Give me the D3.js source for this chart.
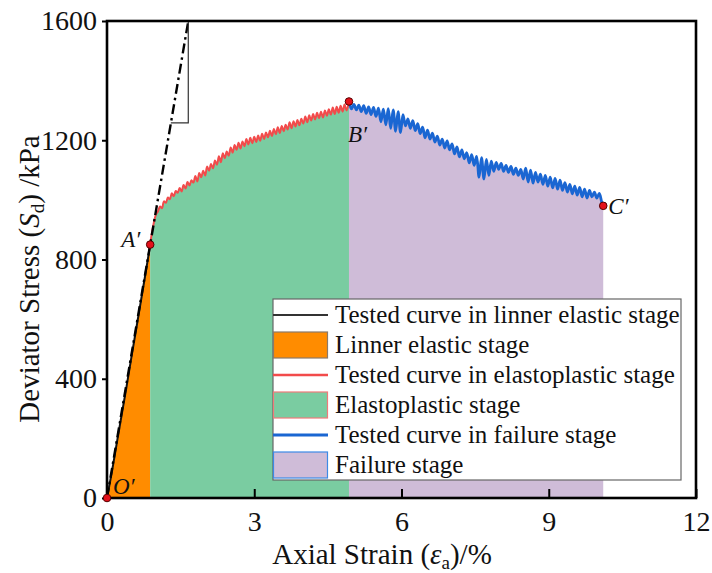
<!DOCTYPE html>
<html><head><meta charset="utf-8">
<script src="https://cdn.jsdelivr.net/npm/d3@7"></script>
<style>body{margin:0;background:#fff}svg{display:block}text{font-family:"Liberation Serif","Times New Roman",serif;fill:#111}</style>
</head><body><svg id="c" width="712" height="573"></svg>
<script>
// ---- data ----
const xTicks = [0, 3, 6, 9, 12];
const yTicks = [0, 400, 800, 1200, 1600];
// linear elastic stage (O' -> A')
const elasticCurve = [[0,0],[0.1,88],[0.2,185],[0.3,280],[0.4,375],[0.5,475],[0.6,572],[0.7,670],[0.8,768],[0.88,850]];
// elastoplastic stage (A' -> B')
const plasticCurve = [[0.88,850],[0.91,885],[0.94,912],[0.97,935],[1.0,952],[1.04,962],[1.08,978],[1.12,972],[1.16,995],[1.2,990],[1.24,1008],[1.28,1002],[1.32,1022],[1.36,1012],[1.4,1030],[1.44,1024],[1.48,1040],[1.52,1028],[1.56,1050],[1.6,1038],[1.64,1060],[1.68,1048],[1.72,1066],[1.76,1058],[1.8,1080],[1.84,1062],[1.88,1090],[1.92,1076],[1.96,1098],[2.0,1082],[2.04,1112],[2.08,1098],[2.12,1120],[2.16,1106],[2.2,1132],[2.24,1118],[2.28,1146],[2.32,1126],[2.36,1156],[2.4,1140],[2.44,1162],[2.48,1148],[2.52,1176],[2.56,1158],[2.6,1184],[2.64,1168],[2.68,1192],[2.72,1172],[2.76,1196],[2.8,1180],[2.84,1204],[2.88,1186],[2.92,1208],[2.96,1190],[3.0,1212],[3.04,1194],[3.08,1216],[3.12,1198],[3.16,1222],[3.2,1204],[3.24,1226],[3.28,1210],[3.32,1232],[3.36,1214],[3.4,1238],[3.44,1220],[3.48,1244],[3.52,1224],[3.56,1248],[3.6,1230],[3.64,1252],[3.68,1236],[3.72,1260],[3.76,1240],[3.8,1264],[3.84,1246],[3.88,1268],[3.92,1250],[3.96,1272],[4.0,1256],[4.04,1280],[4.08,1260],[4.12,1284],[4.16,1266],[4.2,1288],[4.24,1270],[4.28,1292],[4.32,1274],[4.36,1296],[4.4,1276],[4.44,1300],[4.48,1282],[4.52,1304],[4.56,1286],[4.6,1310],[4.64,1288],[4.68,1312],[4.72,1292],[4.76,1316],[4.8,1296],[4.84,1320],[4.88,1300],[4.93,1330]];
// failure stage (B' -> C')
const failureCurve = [[4.93,1330],[4.98,1305],[5.03,1320],[5.08,1302],[5.13,1318],[5.18,1296],[5.23,1316],[5.28,1290],[5.33,1312],[5.38,1286],[5.43,1310],[5.48,1280],[5.53,1308],[5.58,1262],[5.63,1304],[5.68,1252],[5.73,1306],[5.78,1240],[5.83,1302],[5.88,1230],[5.93,1296],[5.98,1226],[6.03,1286],[6.08,1248],[6.13,1272],[6.18,1240],[6.23,1266],[6.28,1232],[6.33,1256],[6.38,1222],[6.43,1244],[6.48,1208],[6.53,1234],[6.58,1204],[6.63,1224],[6.68,1194],[6.73,1214],[6.78,1184],[6.83,1204],[6.88,1174],[6.93,1198],[6.98,1168],[7.03,1188],[7.08,1154],[7.13,1178],[7.18,1144],[7.23,1168],[7.28,1138],[7.33,1158],[7.38,1124],[7.43,1152],[7.48,1116],[7.53,1146],[7.58,1076],[7.63,1142],[7.68,1070],[7.73,1136],[7.78,1082],[7.83,1130],[7.88,1096],[7.93,1126],[7.98,1102],[8.03,1122],[8.08,1096],[8.13,1116],[8.18,1092],[8.23,1112],[8.28,1086],[8.33,1106],[8.38,1082],[8.43,1102],[8.48,1070],[8.53,1106],[8.58,1060],[8.63,1100],[8.68,1056],[8.73,1092],[8.78,1060],[8.83,1086],[8.88,1052],[8.93,1082],[8.98,1046],[9.03,1076],[9.08,1040],[9.13,1072],[9.18,1036],[9.23,1066],[9.28,1032],[9.33,1058],[9.38,1026],[9.43,1052],[9.48,1020],[9.53,1046],[9.58,1016],[9.63,1042],[9.68,1010],[9.73,1036],[9.78,1006],[9.83,1032],[9.88,1010],[9.93,1026],[9.98,1006],[10.03,1022],[10.08,992],[10.11,980]];
// fitted linear-elastic line (through origin) and slope triangle
const fitLine = [[0,0],[1.656,1600]];
const slopeMark = [[1.30,1258],[1.656,1258],[1.656,1600]];
// key points
const keyPoints = [{name:"O",x:0,y:0},{name:"A",x:0.88,y:850},{name:"B",x:4.93,y:1330},{name:"C",x:10.11,y:980}];
const legendLabels = ["Tested curve in linner elastic stage","Linner elastic stage","Tested curve in elastoplastic stage","Elastoplastic stage","Tested curve in failure stage","Failure stage"];

// ---- drawing ----
const svg = d3.select("#c");
const L=107, R=696, T=21, B=498;
const x = d3.scaleLinear().domain([0,12]).range([L,R]);
const y = d3.scaleLinear().domain([0,1600]).range([B,T]);
const col = {orange:"#ff8c00", green:"#7acca1", purple:"#cfbcd8", red:"#f24b4b", blue:"#1a66d2", black:"#111"};

const area = d3.area().x(d=>x(d[0])).y0(y(0)).y1(d=>y(d[1]));
const areaS = d3.area().x(d=>x(d[0])).y0(y(0)).y1(d=>y(d[1])).curve(d3.curveCatmullRom);
const line = d3.line().x(d=>x(d[0])).y(d=>y(d[1]));
const lineS = d3.line().x(d=>x(d[0])).y(d=>y(d[1])).curve(d3.curveCatmullRom);

svg.append("path").datum(elasticCurve).attr("d",area).attr("fill",col.orange);
svg.append("path").datum(plasticCurve).attr("d",areaS).attr("fill",col.green);
svg.append("path").datum(failureCurve).attr("d",areaS).attr("fill",col.purple);

svg.append("path").datum(elasticCurve).attr("d",line).attr("fill","none").attr("stroke",col.black).attr("stroke-width",2);
svg.append("path").datum(plasticCurve).attr("d",lineS).attr("fill","none").attr("stroke",col.red).attr("stroke-width",2);
svg.append("path").datum(failureCurve).attr("d",lineS).attr("fill","none").attr("stroke",col.blue).attr("stroke-width",2.8);

svg.append("path").datum(fitLine).attr("d",line).attr("fill","none").attr("stroke","#000").attr("stroke-width",2.4).attr("stroke-dasharray","10,4,2.5,4");
svg.append("path").datum(slopeMark).attr("d",line).attr("fill","none").attr("stroke","#333").attr("stroke-width",1.2);

// axes
const fs = 28;
const yAxis = d3.axisLeft(y).tickValues(yTicks).tickSizeInner(5).tickSizeOuter(0).tickPadding(5).tickFormat(d3.format("d"));
const gy = svg.append("g").attr("transform",`translate(${L},0)`).call(yAxis);
const xAxis = d3.axisBottom(x).tickValues(xTicks).tickSizeInner(-9).tickSizeOuter(0).tickPadding(13).tickFormat(d3.format("d"));
const gx = svg.append("g").attr("transform",`translate(0,${B})`).call(xAxis);
[gx,gy].forEach(g=>{g.select(".domain").remove();g.selectAll("line").attr("stroke","#000").attr("stroke-width",2);g.selectAll("text").attr("font-size",fs).attr("font-family","Liberation Serif").attr("fill","#111");});
svg.append("rect").attr("x",L).attr("y",T).attr("width",R-L).attr("height",B-T).attr("fill","none").attr("stroke","#000").attr("stroke-width",2.6);

// key points
svg.selectAll("circle.kp").data(keyPoints).join("circle").attr("class","kp")
  .attr("cx",d=>x(d.x)).attr("cy",d=>y(d.y)).attr("r",3.8).attr("fill","#e3101a").attr("stroke","#500").attr("stroke-width",1);
const lblOff = {O:[6,-4],A:[-29,2],B:[-1,41],C:[5,8]};
svg.selectAll("text.kl").data(keyPoints).join("text").attr("class","kl")
  .attr("x",d=>x(d.x)+lblOff[d.name][0]).attr("y",d=>y(d.y)+lblOff[d.name][1])
  .attr("font-size",23).attr("font-style","italic").attr("fill","#222").text(d=>d.name+"′");

// axis titles
const xt = svg.append("text").attr("x",382).attr("y",564).attr("text-anchor","middle").attr("font-size",29);
xt.append("tspan").text("Axial Strain (");
xt.append("tspan").attr("font-style","italic").text("ε");
xt.append("tspan").attr("font-size",19).attr("dy",5).text("a");
xt.append("tspan").attr("dy",-5).text(")/%");
const yt = svg.append("text").attr("transform","translate(39,279) rotate(-90)").attr("text-anchor","middle").attr("font-size",29);
yt.append("tspan").text("Deviator Stress (");
yt.append("tspan").attr("font-style","italic").text("S");
yt.append("tspan").attr("font-size",19).attr("dy",5).text("d");
yt.append("tspan").attr("dy",-5).text(") /kPa");

// legend
const lg = svg.append("g");
lg.append("rect").attr("x",273).attr("y",299).attr("width",408).attr("height",181).attr("fill","#fff").attr("stroke","#666").attr("stroke-width",1.2);
const rowY = i => 315 + i*30;
const sym = [
 {type:"line",c:"#333",w:2},
 {type:"patch",f:col.orange,s:"#8a7a6a"},
 {type:"line",c:col.red,w:2.4},
 {type:"patch",f:col.green,s:"#f07a7a"},
 {type:"line",c:col.blue,w:3},
 {type:"patch",f:col.purple,s:"#3d8ae6"}];
legendLabels.forEach((t,i)=>{
  const s=sym[i], cy=rowY(i);
  if(s.type==="line") lg.append("line").attr("x1",273).attr("x2",328).attr("y1",cy).attr("y2",cy).attr("stroke",s.c).attr("stroke-width",s.w);
  else lg.append("rect").attr("x",273.5).attr("y",cy-13).attr("width",54).attr("height",26).attr("fill",s.f).attr("stroke",s.s).attr("stroke-width",1.2);
  lg.append("text").attr("x",335).attr("y",cy+8).attr("font-size",25).text(t);
});
</script></body></html>
